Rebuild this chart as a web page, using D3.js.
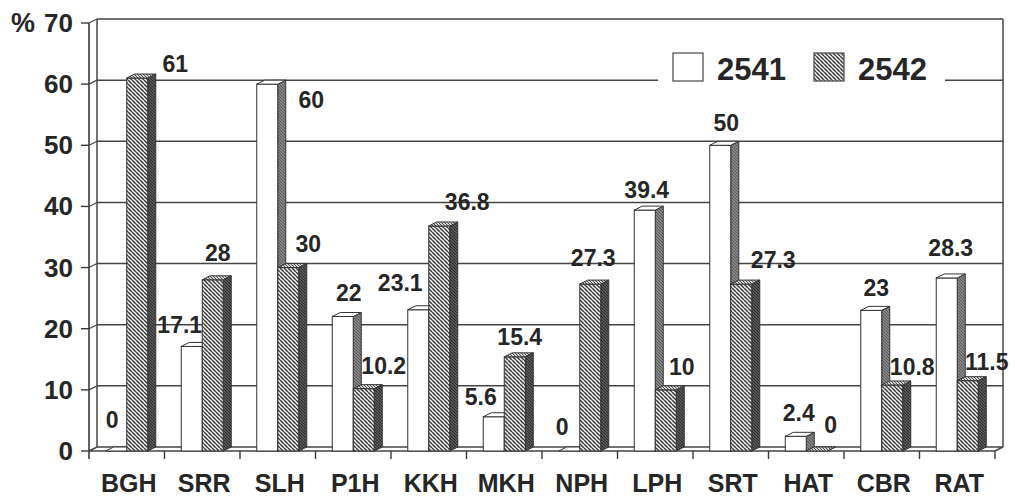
<!DOCTYPE html>
<html>
<head>
<meta charset="utf-8">
<script src="https://cdn.jsdelivr.net/npm/d3@7"></script>
<style>
  body { margin: 0; background: #fff; }
  text { font-family: "Liberation Sans", Arial, sans-serif; font-weight: bold; fill: #262626; }
</style>
</head>
<body>
<div id="chart"></div>
<script>
// data
var hospitals = ["BGH", "SRR", "SLH", "P1H", "KKH", "MKH", "NPH", "LPH", "SRT", "HAT", "CBR", "RAT"];
var years = ["2541", "2542"];
var values2541 = [0, 17.1, 60, 22, 23.1, 5.6, 0, 39.4, 50, 2.4, 23, 28.3];
var values2542 = [61, 28, 30, 10.2, 36.8, 15.4, 27.3, 10, 27.3, 0, 10.8, 11.5];
var yTicks = [0, 10, 20, 30, 40, 50, 60, 70];

// label nudges (px from bar centre / top), the original labels wander around a bit
var nudge2541 = [[-4,-31],[-12,-21],[44,16],[6,-23],[-18,-27],[-13,-20],[-7,-24],[2,-20],[6,-22],[3,-23],[5,-22],[4,-30]];
var nudge2542 = [[38,-14],[5,-27],[20,-24],[20,-23],[28,-24],[5,-20],[3,-26],[16,-23],[32,-24],[14,-26],[20,-18],[19,-19]];

var width = 1015, height = 497;
var depthX = 8, depthY = 4;   // fake 3d offset
var barW = 21;

var svg = d3.select("#chart")
  .append("svg")
    .attr("width", width)
    .attr("height", height);

var defs = svg.append("defs");

// hatch patterns
function hatch(id, bg, stroke, sw, size) {
  var p = defs.append("pattern")
    .attr("id", id)
    .attr("patternUnits", "userSpaceOnUse")
    .attr("width", size).attr("height", size);
  p.append("rect").attr("width", size).attr("height", size).attr("fill", bg);
  p.append("path")
    .attr("d", "M0,0 L" + size + "," + size + " M" + (-size) + ",0 L0," + size + " M" + size + ",0 L" + (2 * size) + "," + size)
    .attr("stroke", stroke).attr("stroke-width", sw);
}
hatch("hatchFront", "#e8e8e8", "#3e3e3e", 1.4, 4);
hatch("hatchSide", "#666", "#2a2a2a", 1.2, 3);
hatch("hatchTop", "#d4d4d4", "#505050", 1, 3);
hatch("greySide", "#858585", "#5a5a5a", 1, 3);

var x = d3.scaleBand()
  .domain(hospitals)
  .range([89, 995]);

var y = d3.scaleLinear()
  .domain([0, 70])
  .range([451, 23]);

var left = x.range()[0], right = x.range()[1];

// back wall gridlines
var grid = svg.append("g");
yTicks.forEach(function(t) {
  var yy = y(t);
  if (t > 0) {
    grid.append("line")
      .attr("x1", left + depthX).attr("x2", right + depthX)
      .attr("y1", yy - depthY).attr("y2", yy - depthY)
      .attr("stroke", "#454545").attr("stroke-width", 1.5);
    grid.append("line")
      .attr("x1", left).attr("x2", left + depthX)
      .attr("y1", yy).attr("y2", yy - depthY)
      .attr("stroke", "#454545").attr("stroke-width", 1.2);
  }
});
// back wall edges
grid.append("line")
  .attr("x1", left + depthX).attr("x2", left + depthX)
  .attr("y1", y(70) - depthY).attr("y2", y(0) - depthY)
  .attr("stroke", "#454545").attr("stroke-width", 1.5);
grid.append("line")
  .attr("x1", right + depthX).attr("x2", right + depthX)
  .attr("y1", y(70) - depthY).attr("y2", y(0) - depthY)
  .attr("stroke", "#454545").attr("stroke-width", 1.5);

// floor
grid.append("path")
  .attr("d", "M" + left + "," + y(0) + " L" + (left + depthX) + "," + (y(0) - depthY) +
             " L" + (right + depthX) + "," + (y(0) - depthY) + " L" + right + "," + y(0) + "Z")
  .attr("fill", "#fff").attr("stroke", "#454545").attr("stroke-width", 1.5);

// left axis
var axisG = svg.append("g");
axisG.append("line")
  .attr("x1", left).attr("x2", left)
  .attr("y1", y(70)).attr("y2", y(0) + 8)
  .attr("stroke", "#3a3a3a").attr("stroke-width", 1.6);
yTicks.forEach(function(t) {
  axisG.append("line")
    .attr("x1", left - 8).attr("x2", left)
    .attr("y1", y(t)).attr("y2", y(t))
    .attr("stroke", "#3a3a3a").attr("stroke-width", 1.4);
  axisG.append("text")
    .attr("x", 73).attr("y", y(t) + 9)
    .attr("text-anchor", "end")
    .style("font-size", "26px")
    .text(t);
});
axisG.append("text")
  .attr("x", 11).attr("y", y(70) + 9)
  .style("font-size", "27px")
  .text("%");

// bottom axis
hospitals.forEach(function(h) {
  axisG.append("line")
    .attr("x1", x(h) + x.bandwidth()).attr("x2", x(h) + x.bandwidth())
    .attr("y1", y(0)).attr("y2", y(0) + 8)
    .attr("stroke", "#3a3a3a").attr("stroke-width", 1.4);
  axisG.append("text")
    .attr("x", x(h) + x.bandwidth() / 2 + 2)
    .attr("y", 492)
    .attr("text-anchor", "middle")
    .style("font-size", "25px")
    .text(h);
});

// one 3d column
function column(g, x0, v, front, side, top) {
  var x1 = x0 + barW, yt = y(v), yb = y(0);
  g.append("path")
    .attr("d", "M" + x1 + "," + yt + " L" + (x1 + depthX) + "," + (yt - depthY) +
               " L" + (x1 + depthX) + "," + (yb - depthY) + " L" + x1 + "," + yb + "Z")
    .attr("fill", side).attr("stroke", "#333").attr("stroke-width", 1);
  g.append("rect")
    .attr("x", x0).attr("y", yt)
    .attr("width", barW).attr("height", yb - yt)
    .attr("fill", front).attr("stroke", "#333").attr("stroke-width", 1);
  g.append("path")
    .attr("d", "M" + x0 + "," + yt + " L" + (x0 + depthX) + "," + (yt - depthY) +
               " L" + (x1 + depthX) + "," + (yt - depthY) + " L" + x1 + "," + yt + "Z")
    .attr("fill", top).attr("stroke", "#333").attr("stroke-width", 1);
}

var bars = svg.append("g");
hospitals.forEach(function(h, i) {
  var c = x(h) + x.bandwidth() / 2;
  column(bars, c - barW, values2541[i], "#fff", "url(#greySide)", "#fff");
  column(bars, c, values2542[i], "url(#hatchFront)", "url(#hatchSide)", "url(#hatchTop)");
});

// value labels
var labels = svg.append("g");
hospitals.forEach(function(h, i) {
  var c = x(h) + x.bandwidth() / 2;
  [[values2541, nudge2541, c - barW / 2], [values2542, nudge2542, c + barW / 2]].forEach(function(s) {
    var v = s[0][i], n = s[1][i];
    labels.append("text")
      .attr("x", s[2] + n[0])
      .attr("y", y(v) + n[1] + 8)
      .attr("text-anchor", "middle")
      .style("font-size", "23px")
      .text(v);
  });
});

// legend
var legend = svg.append("g");
legend.append("rect")
  .attr("x", 658).attr("y", 44)
  .attr("width", 287).attr("height", 46)
  .attr("fill", "#fff");
var legX = [673, 814];
years.forEach(function(yr, i) {
  legend.append("rect")
    .attr("x", legX[i]).attr("y", 53)
    .attr("width", 30).attr("height", 28)
    .attr("fill", i === 0 ? "#fff" : "url(#hatchFront)")
    .attr("stroke", "#555").attr("stroke-width", 1.3);
  legend.append("text")
    .attr("x", legX[i] + 44).attr("y", 80)
    .style("font-size", "31px")
    .text(yr);
});
</script>
</body>
</html>
